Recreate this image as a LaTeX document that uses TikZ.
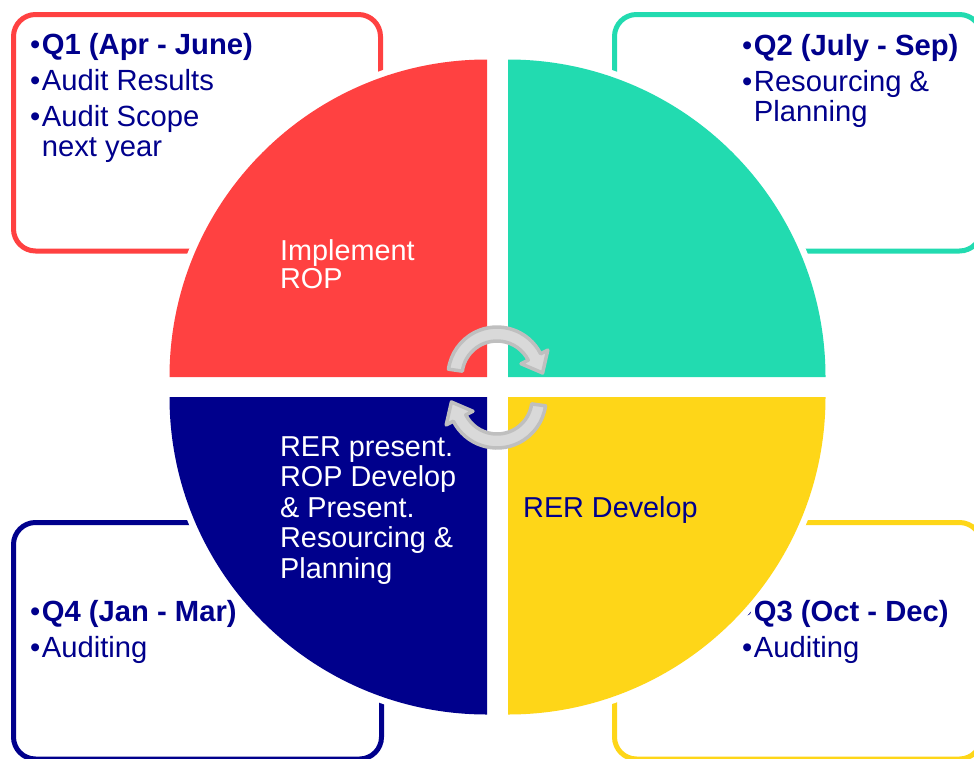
\documentclass[tikz,border=0pt]{standalone}
\usepackage{fontspec}
\setmainfont{Liberation Sans}
\usetikzlibrary{calc}
\definecolor{qred}{RGB}{255,65,65}
\definecolor{qteal}{RGB}{34,219,176}
\definecolor{qnavy}{RGB}{0,0,140}
\definecolor{qyellow}{RGB}{254,214,24}
\definecolor{cycfill}{RGB}{217,217,217}
\definecolor{cycline}{RGB}{191,191,191}
\newcommand{\bul}{•\hspace{1.5pt}}
\newcommand{\nobul}{\phantom{•}\hspace{1.5pt}}
\begin{document}
\begin{tikzpicture}[x=1pt,y=-1pt,
  qbox/.style={draw=#1, line width=5pt, rounded corners=22pt, fill=white},
  % multi-line nodes: the base anchor sits on the last line
  qtext/.style={anchor=base west, inner sep=0pt, align=left, text=qnavy,
    font=\fontsize{29.2}{30}\selectfont},
  wedgetext/.style={anchor=base west, inner sep=0pt, align=left,
    font=\fontsize{28.8}{30.5}\selectfont},
  halo/.style={draw=white, line width=13pt, line join=round},
  cyc/.style={fill=cycfill, draw=cycline, line width=3.5pt, line join=round}]
\useasboundingbox (0,0) rectangle (974,758);

% quarter boxes
\draw[qbox=qred]    (13.5,14.5)  rectangle (380.5,251);
\draw[qbox=qteal]   (614.5,14.5) rectangle (981.5,251);
\draw[qbox=qnavy]   (13.5,522.5) rectangle (381.5,759);
\draw[qbox=qyellow] (614.5,522.5) rectangle (981.5,759);

% box texts
\node[qtext] (q1) at (30,156)
  {\bul\textbf{Q1 (Apr - June)}\\[6pt]\bul Audit Results\\[6pt]\bul Audit Scope\\\nobul next year};
\node[qtext] (q2) at (742,121)
  {\bul\textbf{Q2 (July - Sep)}\\[6pt]\bul Resourcing \&\\\nobul Planning};
\node[qtext] (q4) at (30,657)
  {\bul\textbf{Q4 (Jan - Mar)}\\[6pt]\bul Auditing};
\node[qtext] (q3) at (742,657)
  {\bul\textbf{Q3 (Oct - Dec)}\\[6pt]\bul Auditing};

% quadrant centres
\coordinate (cTL) at (487,377);
\coordinate (cTR) at (508,377);
\coordinate (cBR) at (508,397);
\coordinate (cBL) at (487,397);

% white rims round the wedges
\path[halo] (cTL) -- ++(180:317.5) arc[start angle=180,end angle=270,radius=317.5] -- cycle;
\path[halo] (cTR) -- ++(270:317.5) arc[start angle=270,end angle=360,radius=317.5] -- cycle;
\path[halo] (cBR) -- ++(0:317.5) arc[start angle=0,end angle=90,radius=317.5] -- cycle;
\path[halo] (cBL) -- ++(90:317.5) arc[start angle=90,end angle=180,radius=317.5] -- cycle;

% wedges
\fill[qred]    (cTL) -- ++(180:317.5) arc[start angle=180,end angle=270,radius=317.5] -- cycle;
\fill[qteal]   (cTR) -- ++(270:317.5) arc[start angle=270,end angle=360,radius=317.5] -- cycle;
\fill[qyellow] (cBR) -- ++(0:317.5) arc[start angle=0,end angle=90,radius=317.5] -- cycle;
\fill[qnavy]   (cBL) -- ++(90:317.5) arc[start angle=90,end angle=180,radius=317.5] -- cycle;

% wedge texts
\node[wedgetext, text=white] (w1) at (280,288) {Implement\\[-3pt]ROP};
\node[wedgetext, text=white] (w4) at (280,578)
  {RER present.\\ROP Develop\\\& Present.\\Resourcing \&\\Planning};
\node[wedgetext, text=qnavy] (w3) at (523,517) {RER Develop};

% circular arrows
\coordinate (cA) at (497,376);
\coordinate (cB) at (497,399);
\path[cyc] ($(cA)+(188:35)$) arc[start angle=188,end angle=333,radius=35]
  -- ($(cA)+(333:27)$) -- ($(cA)+(333:42)+(63:18)$) -- ($(cA)+(333:57)$)
  -- ($(cA)+(333:49)$) arc[start angle=333,end angle=188,radius=49] -- cycle;
\path[cyc] ($(cB)+(8:35)$) arc[start angle=8,end angle=153,radius=35]
  -- ($(cB)+(153:27)$) -- ($(cB)+(153:42)+(243:18)$) -- ($(cB)+(153:57)$)
  -- ($(cB)+(153:49)$) arc[start angle=153,end angle=8,radius=49] -- cycle;
\end{tikzpicture}
\end{document}
